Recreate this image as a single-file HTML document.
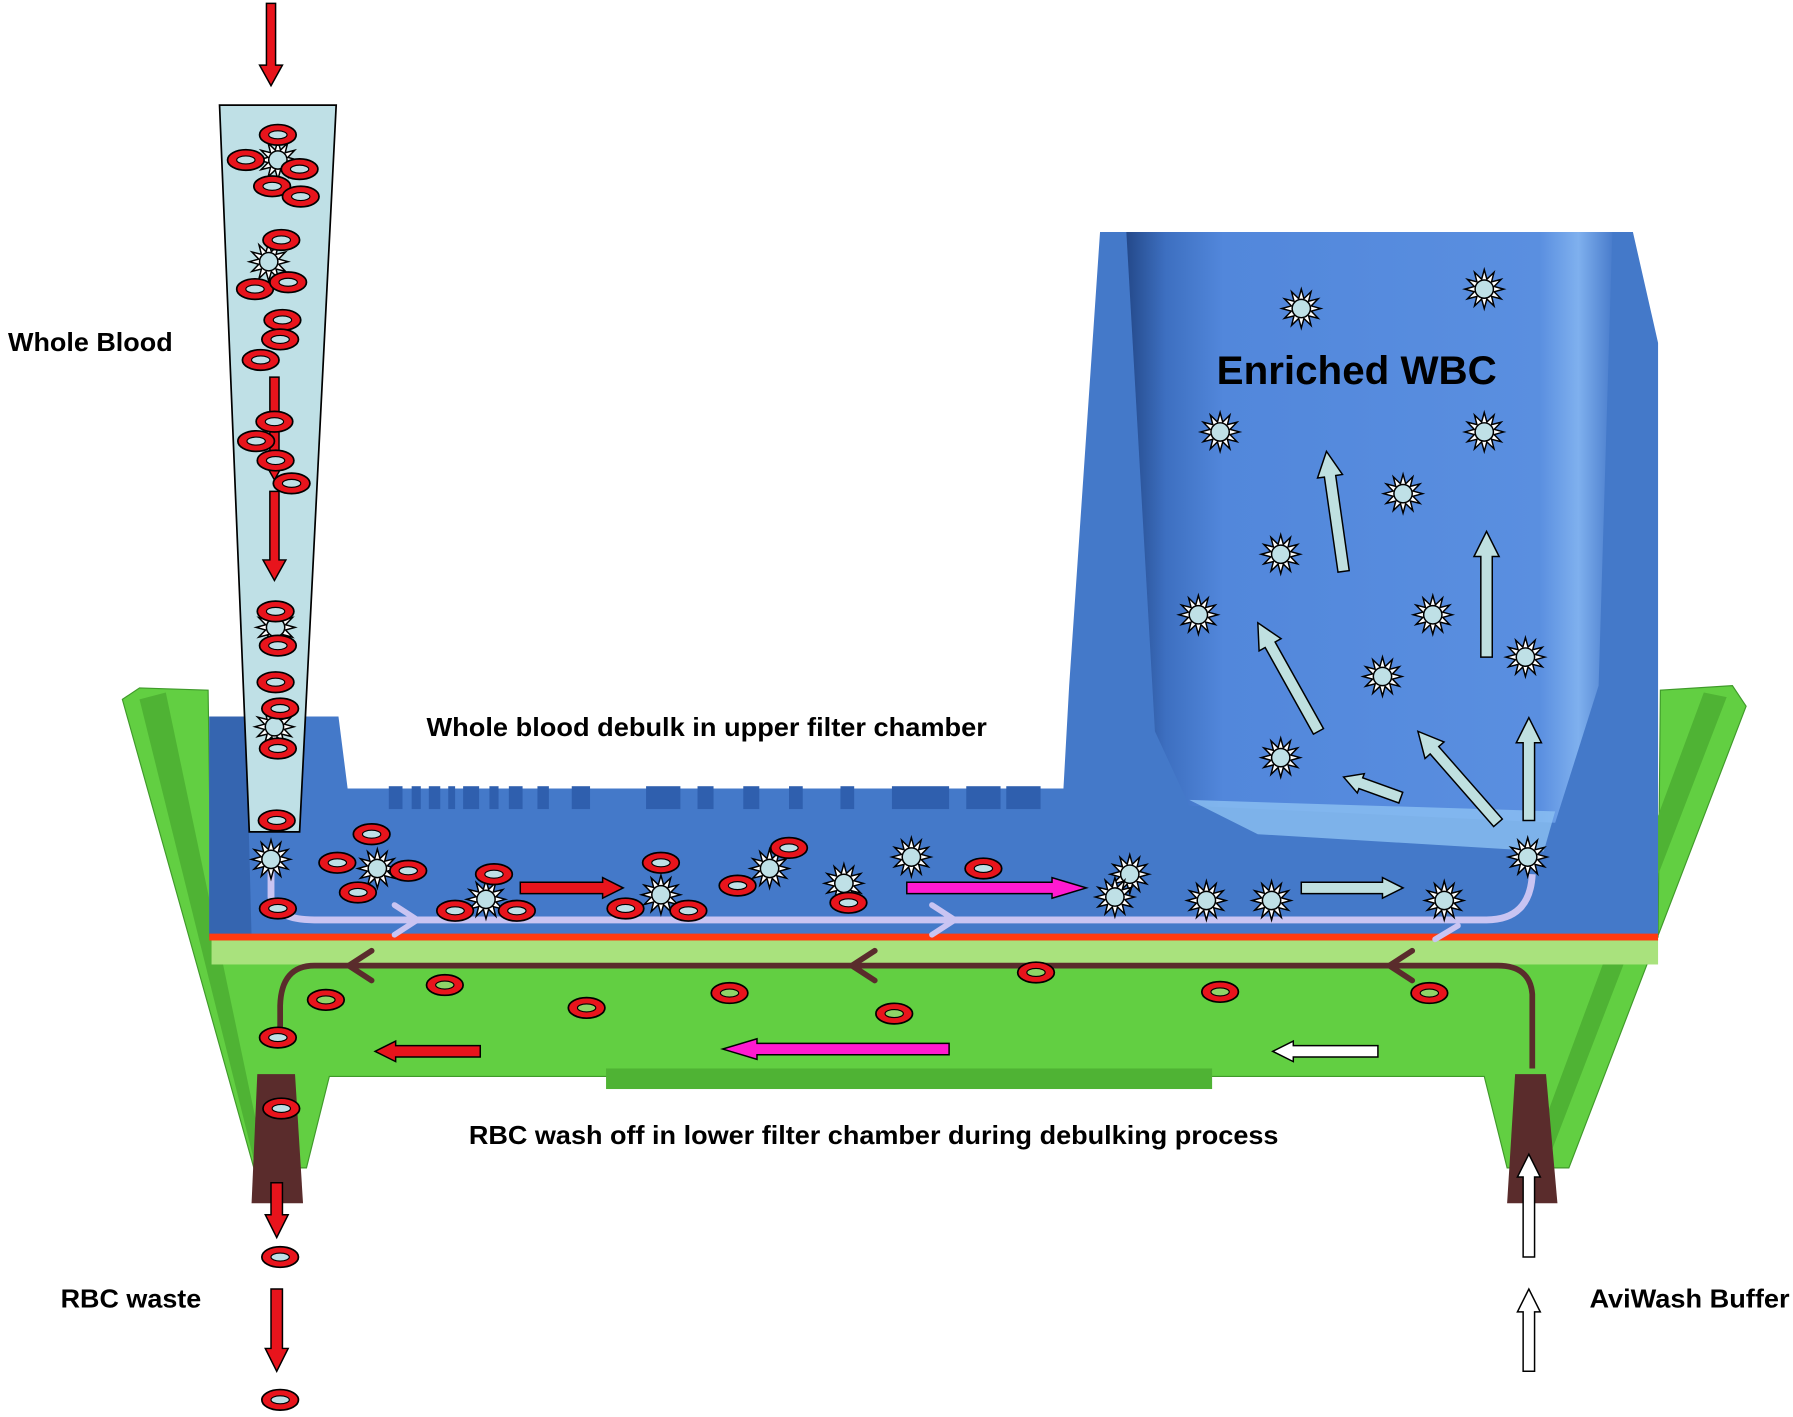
<!DOCTYPE html>
<html><head><meta charset="utf-8"><style>
html,body{margin:0;padding:0;background:#fff;}
svg{display:block;}
text{font-family:"Liberation Sans",sans-serif;font-weight:bold;fill:#000;}
</style></head><body>
<svg id="s" width="1793" height="1417" viewBox="0 0 1568 1240" preserveAspectRatio="none" xmlns="http://www.w3.org/2000/svg">
<defs>
<linearGradient id="tw" x1="0" x2="1" y1="0" y2="0">
<stop offset="0" stop-color="#24498a"/><stop offset="0.08" stop-color="#3d6fc0"/><stop offset="0.2" stop-color="#5287db"/><stop offset="0.85" stop-color="#5a8fe0"/><stop offset="0.93" stop-color="#7fb0ee"/><stop offset="1" stop-color="#4a7dcc"/>
</linearGradient>
<g id="rbc"><ellipse rx="16" ry="9" fill="#e8141c" stroke="#000" stroke-width="1.5"/><ellipse rx="8" ry="3.5" fill="#bfe0e6" stroke="#000" stroke-width="1"/></g>
<g id="rbg"><ellipse rx="16" ry="9" fill="#e8141c" stroke="#000" stroke-width="1.5"/><ellipse rx="8" ry="3.5" fill="#8fd468" stroke="#000" stroke-width="1"/></g>
<g id="wbc"><polygon id="star" fill="#fff" stroke="#000" stroke-width="1.3"/><circle r="8" fill="#bfe0e6" stroke="#000" stroke-width="1.3"/></g>
</defs>
<rect width="1568" height="1240" fill="#fff"/>
<polygon points="107,612 122,602 182,604 185,820 1450,820 1452,604 1515,600 1527,618 1372,1022 1318,1022 1298,942 288,942 268,1022 222,1022" fill="#62cf42" stroke="#3f9a2a" stroke-width="1"/>
<polygon points="122,612 145,606 230,1010 222,1015" fill="#4fb334"/>
<polygon points="1510,610 1490,606 1340,1010 1355,1012" fill="#4fb334"/>
<rect x="185" y="822" width="1265" height="22" fill="#a9e27d"/>
<rect x="530" y="935" width="530" height="18" fill="#4fb334"/>
<polygon points="183,627 296,627 304,690 930,690 935,600 962,203 1428,203 1450,300 1450,820 183,820" fill="#4479c9"/>
<polygon points="985,203 1410,203 1398,600 1360,720 1040,705 1010,640" fill="url(#tw)"/>
<polygon points="1040,700 1360,710 1350,745 1100,730" fill="#8cc0f2" opacity="0.8"/>
<polygon points="183,627 215,627 220,820 183,820" fill="#3565b0"/>
<g id="notch" fill="#2f5fae"></g>
<rect x="183" y="817" width="1267" height="6" fill="#ff3a10"/>
<polygon points="192,92 294,92 262,728 218,728" fill="#bfe0e6" stroke="#000" stroke-width="1.5"/>
<polygon points="225,940 258,940 265,1053 220,1053" fill="#5a2c2c"/>
<polygon points="1325,940 1352,940 1362,1053 1318,1053" fill="#5a2c2c"/>
<path d="M237,758 L237,785 Q240,805 275,805 L1300,805 Q1338,805 1340,765" fill="none" stroke="#c9c4f2" stroke-width="6"/>
<path d="M1340,935 L1340,870 Q1338,845 1310,845 L275,845 Q246,845 245,880 L245,915" fill="none" stroke="#5a2c2c" stroke-width="5"/>
<g fill="none" stroke-width="5" stroke-linecap="round">
<path d="M345,792 L365,805 L345,818" stroke="#c9c4f2"/>
<path d="M815,792 L835,805 L815,818" stroke="#c9c4f2"/>
<path d="M1255,822 L1275,810" stroke="#c9c4f2"/>
<path d="M325,832 L305,845 L325,858" stroke="#5a2c2c"/>
<path d="M765,832 L745,845 L765,858" stroke="#5a2c2c"/>
<path d="M1235,832 L1215,845 L1235,858" stroke="#5a2c2c"/>
</g>
<g id="arrows"></g>
<g id="cells"></g>
<text x="7" y="307" font-size="23" textLength="144" lengthAdjust="spacingAndGlyphs">Whole Blood</text>
<text x="373" y="644" font-size="23" textLength="490" lengthAdjust="spacingAndGlyphs">Whole blood debulk in upper filter chamber</text>
<text x="1064" y="336" font-size="35" textLength="245" lengthAdjust="spacingAndGlyphs">Enriched WBC</text>
<text x="410" y="1001" font-size="23" textLength="708" lengthAdjust="spacingAndGlyphs">RBC wash off in lower filter chamber during debulking process</text>
<text x="53" y="1144" font-size="23" textLength="123" lengthAdjust="spacingAndGlyphs">RBC waste</text>
<text x="1390" y="1144" font-size="23" textLength="175" lengthAdjust="spacingAndGlyphs">AviWash Buffer</text>
</svg>
<script>
var NS="http://www.w3.org/2000/svg";
function el(t,a,p){var e=document.createElementNS(NS,t);for(var k in a)e.setAttribute(k,a[k]);p.appendChild(e);return e;}
var pts=[];for(var i=0;i<24;i++){var r=i%2?9:17,a=i*Math.PI/12;pts.push((r*Math.cos(a)).toFixed(1)+","+(r*Math.sin(a)).toFixed(1));}
document.getElementById("star").setAttribute("points",pts.join(" "));
var n=document.getElementById("notch");
[[340,12],[360,8],[375,10],[392,6],[405,14],[428,8],[445,12],[470,10],[500,16],[565,30],[610,14],[650,14],[690,12],[735,12],[780,50],[845,30],[880,30]].forEach(function(q){el("rect",{x:q[0],y:688,width:q[1],height:20},n);});
var A=document.getElementById("arrows");
function arrow(x1,y1,x2,y2,fill,w,hw,hl){var dx=x2-x1,dy=y2-y1,L=Math.hypot(dx,dy),ux=dx/L,uy=dy/L,px=-uy,py=ux;
function P(a,b){return (x1+ux*a+px*b).toFixed(1)+","+(y1+uy*a+py*b).toFixed(1);}
el("polygon",{points:[P(0,-w),P(L-hl,-w),P(L-hl,-hw),P(L,0),P(L-hl,hw),P(L-hl,w),P(0,w)].join(" "),fill:fill,stroke:"#000","stroke-width":1.3},A);}
var R="#e8141c",C="#bfe0e0",M="#ff1ad0",W="#fff";
arrow(237,3,237,75,R,4,10,18);
arrow(240,330,240,420,R,4,10,18);
arrow(240,430,240,508,R,4,10,18);
arrow(1175,500,1160,395,C,5,11,22);
arrow(1153,640,1100,545,C,5,11,22);
arrow(1300,575,1300,465,C,5,11,22);
arrow(1225,698,1175,680,C,5,9,16);
arrow(1310,720,1240,640,C,5,11,22);
arrow(1337,718,1337,628,C,5,11,22);
arrow(455,777,545,777,R,5,9,18);
arrow(793,777,950,777,M,5,9,30);
arrow(1138,777,1227,777,C,5,9,18);
arrow(420,920,328,920,R,5,9,18);
arrow(830,918,632,918,M,5,9,30);
arrow(1205,920,1113,920,W,5,9,18);
arrow(242,1035,242,1083,R,5,10,20);
arrow(242,1128,242,1200,R,5,10,20);
arrow(1337,1100,1337,1010,W,5,10,20);
arrow(1337,1200,1337,1128,W,5,10,20);
var Cg=document.getElementById("cells");
function use(id,x,y){el("use",{href:"#"+id,x:x,y:y},Cg);}
[[243,140],[235,229],[241,549],[240,636],[237,752],[330,760],[425,787],[578,783],[673,760],[738,773],[797,750],[988,765],[975,785],[1055,788],[1112,788],[1263,788],[1336,750],[1138,270],[1298,253],[1067,378],[1298,378],[1227,432],[1120,485],[1048,538],[1253,538],[1334,575],[1209,592],[1120,663]].forEach(function(p){use("wbc",p[0],p[1]);});
[[243,118],[215,140],[262,148],[238,163],[263,172],[246,210],[223,253],[252,247],[247,280],[245,297],[228,315],[240,369],[224,386],[241,403],[255,423],[241,535],[243,565],[241,597],[245,620],[243,655],[242,718],[325,730],[295,755],[357,762],[432,765],[313,781],[398,797],[452,797],[578,755],[690,742],[645,775],[547,795],[602,797],[742,790],[860,760],[243,795],[243,908],[246,970],[245,1100],[245,1225]].forEach(function(p){use("rbc",p[0],p[1]);});
[[285,875],[389,862],[513,882],[638,869],[782,887],[906,851],[1067,868],[1250,869]].forEach(function(p){use("rbg",p[0],p[1]);});
</script>
</body></html>
